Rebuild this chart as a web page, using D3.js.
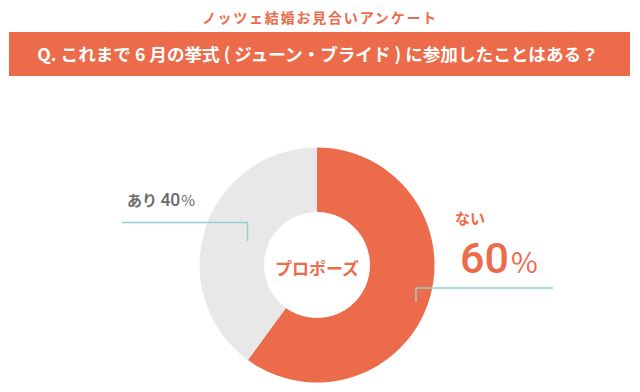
<html>
<head>
<script src="https://d3js.org/d3.v7.min.js"></script>
<style>
  body { margin: 0; background: #fff; }
  svg text { font-family: "Noto Sans CJK JP", "Noto Sans", sans-serif; font-weight: bold; }
</style>
</head>
<body>
<div id="chart"></div>
<script>
  // data
  var categories = ["ない", "あり"];
  var values = [60, 40];
  var centerLabel = "プロポーズ";
  var surveyTitle = "ノッツェ結婚お見合いアンケート";
  var question = "Q. これまで 6 月の挙式 ( ジューン・ブライド ) に参加したことはある？";

  var width = 640, height = 392;
  var orange = "#ec6b4b", gray = "#e8e8e8", teal = "#8fd2cd", textGray = "#6b6b6b";
  var cx = 317, cy = 265, outerR = 117.5, innerR = 53;

  var color = d3.scaleOrdinal().domain(categories).range([orange, gray]);

  var svg = d3.select("#chart").append("svg")
      .attr("width", width).attr("height", height);

  svg.append("rect").attr("width", width).attr("height", height).attr("fill", "#fff");

  // heading
  svg.append("text")
      .attr("x", 320).attr("y", 22.5)
      .attr("text-anchor", "middle")
      .attr("font-size", 14)
      .attr("letter-spacing", 1.8)
      .attr("fill", orange)
      .text(surveyTitle);

  svg.append("rect")
      .attr("x", 9).attr("y", 32).attr("width", 621).attr("height", 44)
      .attr("fill", orange);

  svg.append("text")
      .attr("x", 318).attr("y", 60.5)
      .attr("text-anchor", "middle")
      .attr("font-size", 17.6)
      .attr("fill", "#fff")
      .text(question);

  // donut
  var pie = d3.pie().sort(null).value(function(d) { return d; });
  var arc = d3.arc().innerRadius(innerR).outerRadius(outerR);

  var g = svg.append("g").attr("transform", "translate(" + cx + "," + cy + ")");
  g.selectAll("path")
      .data(pie(values))
      .enter().append("path")
      .attr("d", arc)
      .attr("fill", function(d, i) { return color(categories[i]); });

  g.append("text")
      .attr("text-anchor", "middle")
      .attr("y", 10)
      .attr("font-size", 17)
      .attr("fill", orange)
      .text(centerLabel);

  // leader lines
  svg.append("polyline")
      .attr("points", "122,222.5 247.5,222.5 247.5,241")
      .attr("fill", "none").attr("stroke", teal).attr("stroke-width", 1.5);
  svg.append("polyline")
      .attr("points", "553,288 416,288 416,302")
      .attr("fill", "none").attr("stroke", teal).attr("stroke-width", 1.5);

  // label: あり 40%
  var left = svg.append("text").attr("x", 127).attr("y", 205.5).attr("fill", textGray);
  left.append("tspan").attr("font-size", 15).text(categories[1] + " ");
  left.append("tspan").attr("font-size", 17.5).attr("font-family", "Roboto").attr("font-weight", 500).text(values[1]);
  left.append("tspan").attr("font-size", 15).attr("font-weight", "normal").attr("dx", 1).text("%");

  // label: ない 60%
  svg.append("text")
      .attr("x", 455).attr("y", 223.5)
      .attr("font-size", 15)
      .attr("fill", orange)
      .text(categories[0]);
  var right = svg.append("text").attr("x", 460).attr("y", 273).attr("fill", orange);
  right.append("tspan").attr("font-size", 43).attr("font-family", "Roboto").attr("font-weight", 500).text(values[0]);
  right.append("tspan").attr("font-size", 29).attr("font-weight", "normal").attr("dx", 2).text("%");
</script>
</body>
</html>
